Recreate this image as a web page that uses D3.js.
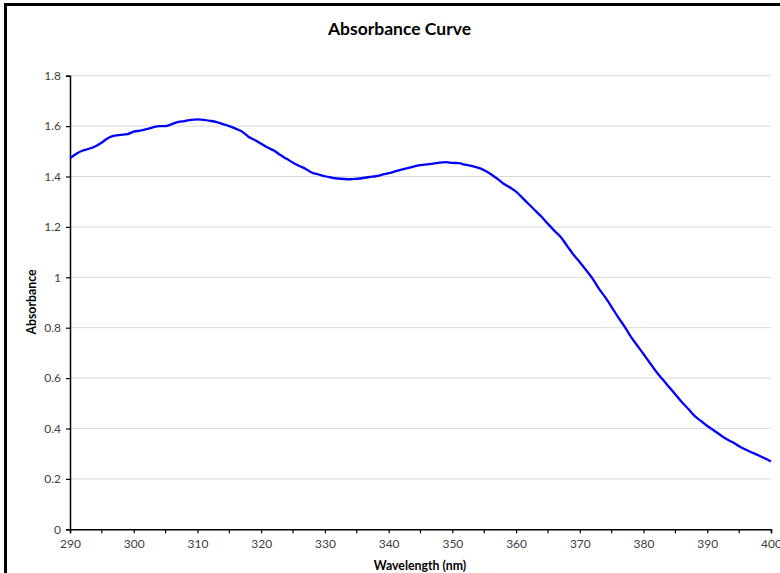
<!DOCTYPE html>
<html>
<head>
<meta charset="utf-8">
<script src="https://cdn.jsdelivr.net/npm/d3@7"></script>
<style>
  html, body { margin: 0; padding: 0; background: #fff; }
  svg { display: block; }
</style>
</head>
<body>
<svg id="chart" width="780" height="573"></svg>
<script>
const wavelengths = [290,291,292,293,294,295,296,297,298,299,300,301,302,303,304,305,306,307,308,309,310,311,312,313,314,315,316,317,318,319,320,321,322,323,324,325,326,327,328,329,330,331,332,333,334,335,336,337,338,339,340,341,342,343,344,345,346,347,348,349,350,351,352,353,354,355,356,357,358,359,360,361,362,363,364,365,366,367,368,369,370,371,372,373,374,375,376,377,378,379,380,381,382,383,384,385,386,387,388,389,390,391,392,393,394,395,396,397,398,399,400];
const absorbance = [1.472,1.490,1.503,1.510,1.520,1.535,1.553,1.562,1.565,1.568,1.578,1.582,1.588,1.595,1.600,1.600,1.608,1.617,1.620,1.625,1.627,1.625,1.621,1.616,1.608,1.600,1.590,1.578,1.558,1.545,1.530,1.515,1.503,1.485,1.470,1.455,1.442,1.430,1.415,1.408,1.401,1.396,1.392,1.390,1.389,1.391,1.394,1.398,1.401,1.407,1.413,1.420,1.427,1.433,1.440,1.445,1.448,1.451,1.455,1.457,1.454,1.453,1.447,1.442,1.435,1.425,1.410,1.392,1.372,1.357,1.340,1.315,1.290,1.265,1.240,1.212,1.185,1.160,1.125,1.090,1.060,1.028,0.995,0.955,0.920,0.882,0.842,0.805,0.765,0.730,0.695,0.660,0.625,0.595,0.565,0.535,0.505,0.478,0.450,0.430,0.410,0.393,0.375,0.358,0.345,0.330,0.317,0.305,0.294,0.282,0.269];
const xTicks = [290,300,310,320,330,340,350,360,370,380,390,400];
const xMinorTicks = [295,305,315,325,335,345,355,365,375,385,395];
const yTicks = [0,0.2,0.4,0.6,0.8,1,1.2,1.4,1.6,1.8];
const titleText = "Absorbance Curve";
const xTitle = "Wavelength (nm)";
const yTitle = "Absorbance";

(function () {
const svg = d3.select("#chart");
const pLeft = 70, pRight = 771, pTop = 75.7, pBottom = 529.3;
const font = "Lato, 'Open Sans', 'Liberation Sans', sans-serif";

// outer border (chart frame, clipped at right/bottom)
svg.append("rect").attr("x", 5.5).attr("y", 4.5).attr("width", 800).attr("height", 600)
  .attr("fill", "none").attr("stroke", "#000").attr("stroke-width", 3);

const x = d3.scaleLinear().domain([290, 400]).range([pLeft, pRight]);
const y = d3.scaleLinear().domain([0, 1.8]).range([pBottom, pTop]);

// gridlines
svg.append("g").selectAll("line").data(yTicks.filter(d => d > 0)).join("line")
  .attr("x1", pLeft).attr("x2", pRight)
  .attr("y1", d => y(d)).attr("y2", d => y(d))
  .attr("stroke", "#d9d9d9").attr("stroke-width", 1);

// y axis
const yAxis = svg.append("g").attr("transform", `translate(${pLeft},0)`)
  .call(d3.axisLeft(y).tickValues(yTicks).tickSize(4).tickPadding(5)
    .tickFormat(d => String(+d.toFixed(1))));
yAxis.select(".domain").attr("stroke", "#000").attr("stroke-width", 1.5);
yAxis.selectAll(".tick line").attr("stroke", "#000").attr("stroke-width", 1.2);
yAxis.selectAll("text").attr("font-family", font).attr("font-size", 12).attr("fill", "#404040");

// x axis
const xAxis = svg.append("g").attr("transform", `translate(0,${pBottom})`)
  .call(d3.axisBottom(x).tickValues(xTicks).tickSize(4).tickPadding(6).tickFormat(d3.format("d")));
xAxis.select(".domain").attr("stroke", "#000").attr("stroke-width", 1.5);
xAxis.selectAll(".tick line").attr("stroke", "#000").attr("stroke-width", 1.2);
xAxis.selectAll("text").attr("font-family", font).attr("font-size", 12).attr("fill", "#404040");
svg.append("g").selectAll("line").data(xMinorTicks).join("line")
  .attr("x1", d => x(d)).attr("x2", d => x(d))
  .attr("y1", pBottom).attr("y2", pBottom + 4)
  .attr("stroke", "#000").attr("stroke-width", 1.2);

// line
const line = d3.line().x((d, i) => x(wavelengths[i])).y(d => y(d)).curve(d3.curveMonotoneX);
svg.append("path").datum(absorbance).attr("d", line)
  .attr("fill", "none").attr("stroke", "#0000ff").attr("stroke-width", 2.3)
  .attr("stroke-linejoin", "round");

// titles
svg.append("text").attr("x", 399.5).attr("y", 35).attr("text-anchor", "middle")
  .attr("font-family", font).attr("font-weight", "bold").attr("font-size", 17.5).attr("fill", "#000")
  .text(titleText);
svg.append("text").attr("x", 420).attr("y", 570).attr("text-anchor", "middle")
  .attr("font-family", font).attr("font-weight", "bold").attr("font-size", 12.3).attr("fill", "#000")
  .text(xTitle);
svg.append("text").attr("transform", "translate(36,302) rotate(-90)").attr("text-anchor", "middle")
  .attr("font-family", font).attr("font-weight", "bold").attr("font-size", 12.3).attr("fill", "#000")
  .text(yTitle);
})();
</script>
</body>
</html>
